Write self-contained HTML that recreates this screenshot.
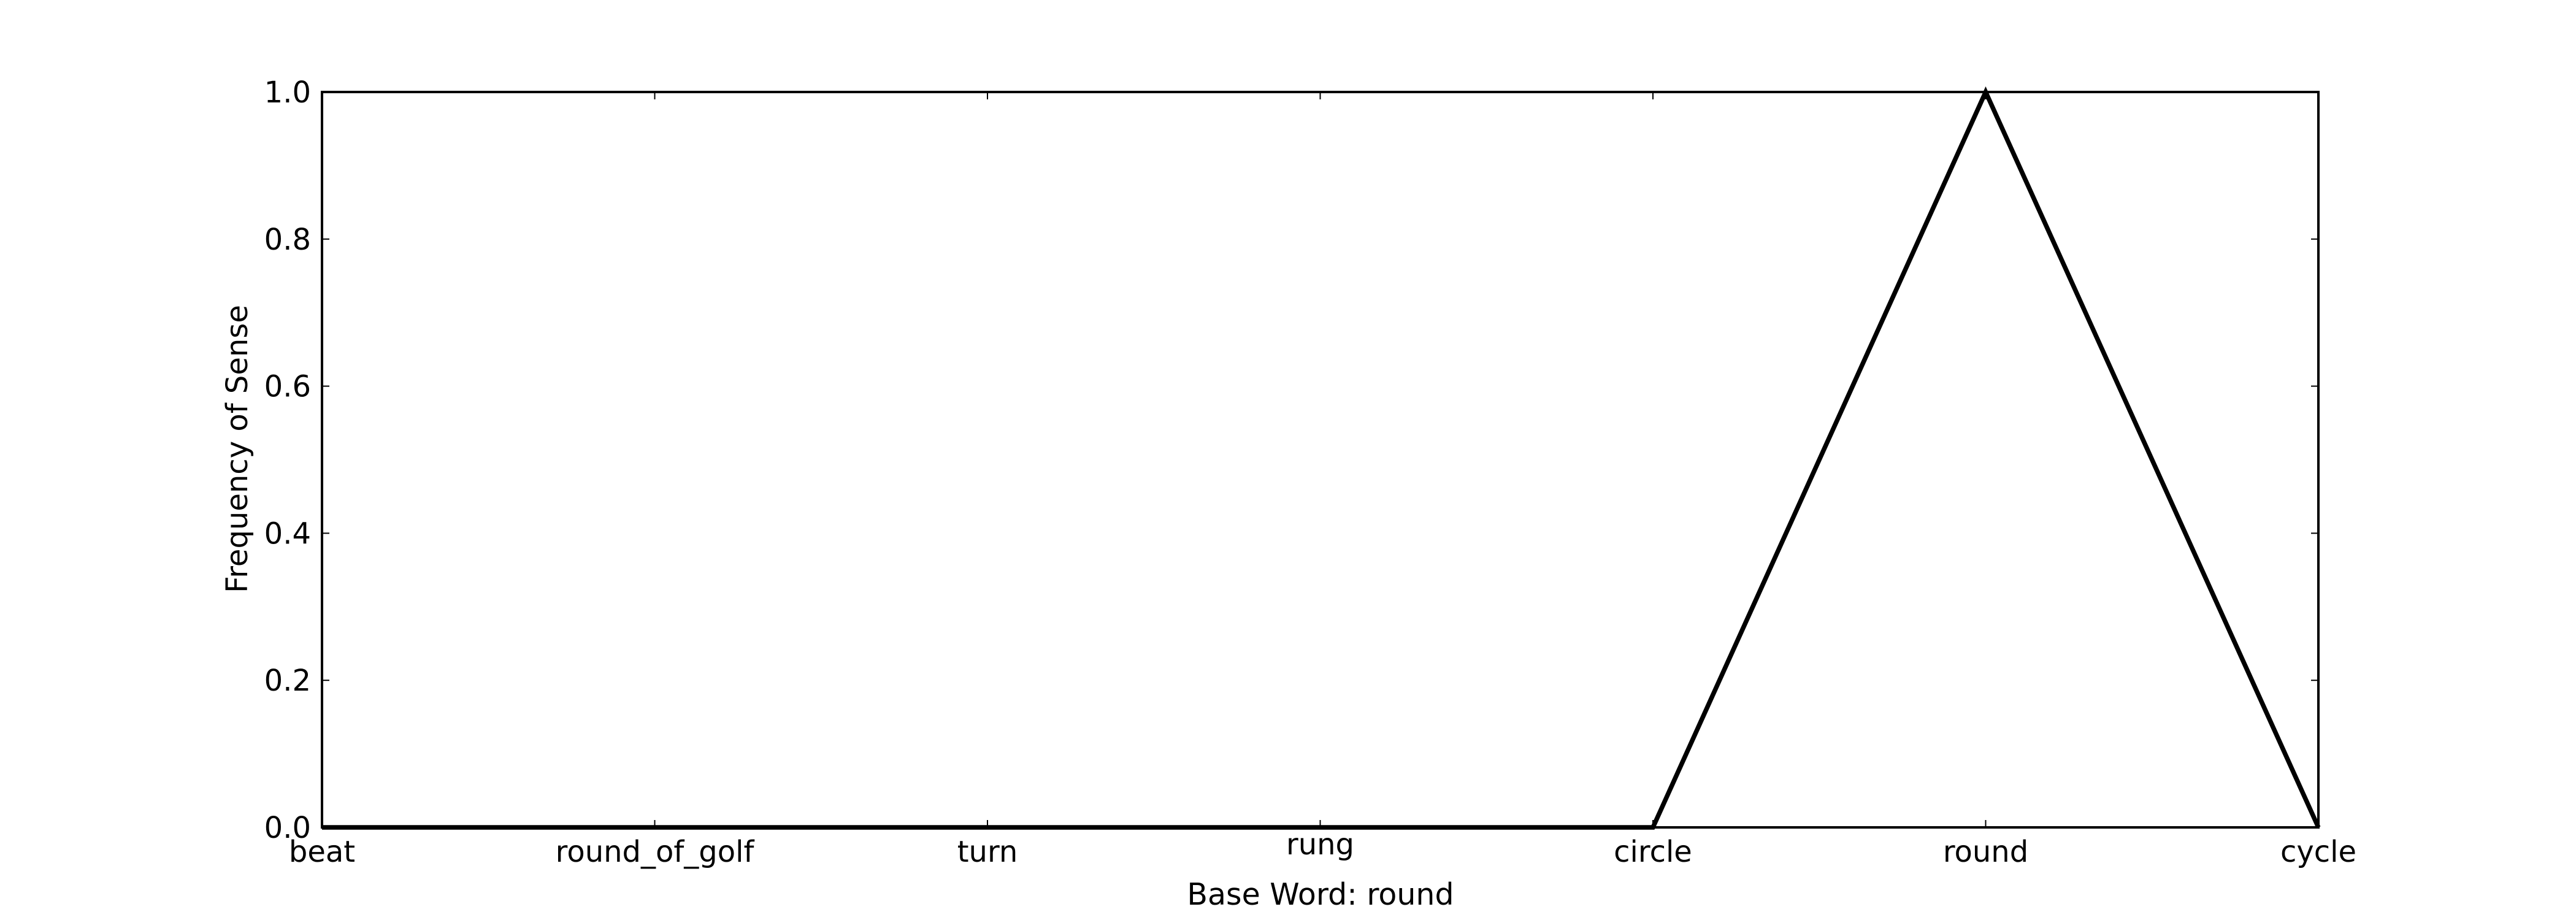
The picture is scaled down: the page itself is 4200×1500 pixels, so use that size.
<!DOCTYPE html>
<html><head><meta charset="utf-8"><style>html,body{margin:0;padding:0;background:#fff}svg{display:block}text{font-family:"DejaVu Sans","Liberation Sans",sans-serif;fill:#000}</style></head>
<body>
<svg id="chart" width="4200" height="1500" xmlns="http://www.w3.org/2000/svg">
<rect width="4200" height="1500" fill="#fff"/>
<g id="plot"></g>
</svg>
<script>
const categories = ["beat","round_of_golf","turn","rung","circle","round","cycle"];
const values = [0,0,0,0,0,1,0];
const yTicks = [0,0.2,0.4,0.6,0.8,1.0];
const yTickLabels = ["0.0","0.2","0.4","0.6","0.8","1.0"];
const xTitle = "Base Word: round";
const yTitle = "Frequency of Sense";

const L=525,R=3780,T=150,B=1349;
const NS="http://www.w3.org/2000/svg";
const g=document.getElementById('plot');
function xs(i){return L+(R-L)*i/(categories.length-1);}
function ys(v){return B-(B-T)*v;}
function mk(tag,attrs,parent){const e=document.createElementNS(NS,tag);for(const k in attrs)e.setAttribute(k,attrs[k]);(parent||g).appendChild(e);return e;}

const pts=values.map((v,i)=>xs(i)+','+ys(v)).join(' ');
const line=mk('polyline',{points:pts,fill:'none',stroke:'#000','stroke-width':7.5,'stroke-linejoin':'miter'});



const frame=mk('rect',{x:L,y:T,width:R-L,height:B-T,fill:'none',stroke:'#000','stroke-width':4});



yTicks.forEach((v,i)=>{
  const y=ys(v);
  const t1=mk('line',{x1:L,x2:L+12,y1:y,y2:y,stroke:'#000','stroke-width':2});
  
  
  const t2=mk('line',{x1:R,x2:R-12,y1:y,y2:y,stroke:'#000','stroke-width':2});
  
  
  const lb=mk('text',{x:507,y:y+17,'text-anchor':'end','font-size':48});
  lb.textContent=yTickLabels[i];
  
  
});

const noAsc=/^[acegmnopqrsuvwxyz_]+$/;
categories.forEach((c,i)=>{
  const x=xs(i);
  const t1=mk('line',{x1:x,x2:x,y1:B,y2:B-12,stroke:'#000','stroke-width':2});
  
  
  const t2=mk('line',{x1:x,x2:x,y1:T,y2:T+12,stroke:'#000','stroke-width':2});
  
  
  const lb=mk('text',{x:x,y:noAsc.test(c)?1393:1405,'text-anchor':'middle','font-size':48});
  lb.textContent=c;
  
  
});

const xt=mk('text',{x:2153,y:1475,'text-anchor':'middle','font-size':49});
xt.textContent=xTitle;


const yt=mk('text',{x:0,y:0,'text-anchor':'middle','font-size':48,transform:'translate(403,732) rotate(-90)'});
yt.textContent=yTitle;


</script>
</body></html>
